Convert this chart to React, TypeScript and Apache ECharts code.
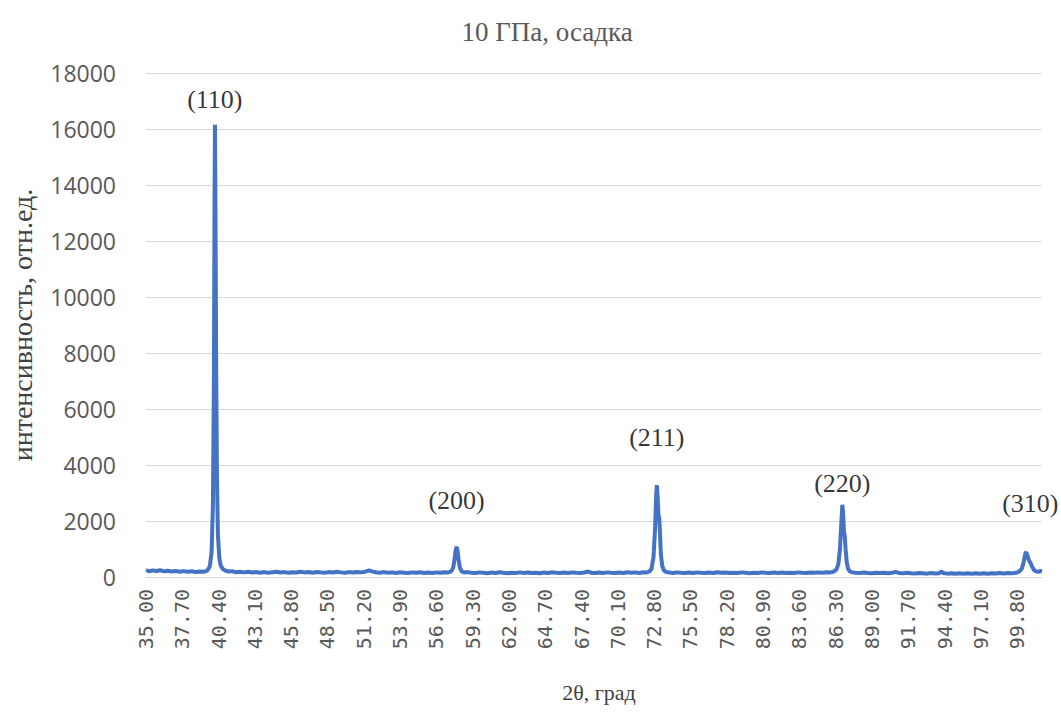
import React, { useEffect, useRef } from "react";
import * as echarts from "echarts";

const title = "10 ГПа, осадка";
const xName = "2θ, град";
const yName = "интенсивность, отн.ед.";

// 2θ angles (deg) and intensities
const angle: number[] = [
  35.0, 35.25, 35.5, 35.8, 36.05, 36.35, 36.6, 36.9, 37.2, 37.5, 37.8, 38.1, 38.4, 38.7, 39.0, 39.3, 39.55, 39.75,
  39.88, 39.98, 40.05, 40.1, 40.13, 40.17, 40.22, 40.28, 40.35, 40.45, 40.55, 40.7, 40.9, 41.15, 41.4, 41.7, 42.0,
  42.3, 42.6, 42.9, 43.2, 43.5, 43.8, 44.1, 44.4, 44.7, 45.0, 45.3, 45.6, 45.9, 46.2, 46.5, 46.8, 47.1, 47.4, 47.7,
  48.0, 48.3, 48.6, 48.9, 49.2, 49.5, 49.8, 50.1, 50.4, 50.7, 51.0, 51.3, 51.6, 51.8, 52.1, 52.4, 52.7, 53.0, 53.3,
  53.6, 53.9, 54.2, 54.5, 54.8, 55.1, 55.4, 55.7, 56.0, 56.3, 56.6, 56.9, 57.2, 57.5, 57.7, 57.85, 57.95, 58.03,
  58.1, 58.17, 58.25, 58.35, 58.48, 58.65, 58.9, 59.2, 59.5, 59.8, 60.1, 60.4, 60.7, 61.0, 61.3, 61.6, 61.9, 62.2,
  62.5, 62.8, 63.1, 63.4, 63.7, 64.0, 64.3, 64.6, 64.9, 65.2, 65.5, 65.8, 66.1, 66.4, 66.7, 67.0, 67.3, 67.6, 67.9,
  68.1, 68.4, 68.7, 69.0, 69.3, 69.6, 69.9, 70.2, 70.5, 70.8, 71.1, 71.4, 71.7, 72.0, 72.25, 72.45, 72.6, 72.75,
  72.87, 72.95, 73.0, 73.06, 73.12, 73.18, 73.24, 73.3, 73.4, 73.52, 73.7, 73.95, 74.2, 74.5, 74.8, 75.1, 75.4,
  75.7, 76.0, 76.3, 76.6, 76.9, 77.2, 77.5, 77.8, 78.1, 78.4, 78.7, 79.0, 79.3, 79.6, 79.9, 80.2, 80.5, 80.8, 81.1,
  81.4, 81.7, 82.0, 82.3, 82.6, 82.9, 83.2, 83.5, 83.8, 84.1, 84.4, 84.7, 85.0, 85.3, 85.6, 85.9, 86.15, 86.35,
  86.5, 86.62, 86.72, 86.8, 86.86, 86.92, 86.98, 87.04, 87.12, 87.22, 87.35, 87.55, 87.8, 88.1, 88.4, 88.7, 89.0,
  89.3, 89.6, 89.9, 90.2, 90.5, 90.75, 91.0, 91.3, 91.6, 91.9, 92.2, 92.5, 92.8, 93.1, 93.4, 93.7, 94.0, 94.15,
  94.3, 94.6, 94.9, 95.2, 95.5, 95.8, 96.1, 96.4, 96.7, 97.0, 97.3, 97.6, 97.9, 98.2, 98.5, 98.8, 99.1, 99.4, 99.7,
  99.95, 100.15, 100.3, 100.42, 100.48, 100.56, 100.66, 100.78, 100.9, 101.05, 101.2, 101.35, 101.5, 101.65,
];

const intensity: number[] = [
  250, 205, 235, 215, 240, 200, 225, 195, 215, 185, 210, 190, 205, 175, 195, 185, 230, 380,
  900, 2600, 7000, 13500, 16150, 13000, 7500, 3500, 1500, 700, 420, 290, 230, 195, 210, 170, 190,
  165, 185, 160, 180, 155, 175, 150, 170, 185, 160, 175, 150, 170, 160, 185, 165, 175, 155, 180,
  165, 150, 175, 160, 185, 165, 150, 175, 160, 180, 165, 190, 240, 200, 170, 155, 175, 150, 165,
  145, 170, 155, 140, 165, 150, 170, 145, 160, 140, 165, 150, 170, 160, 200, 330, 620, 950,
  1080, 950, 620, 330, 200, 160, 175, 150, 140, 165, 150, 135, 160, 145, 170, 150, 135, 155,
  140, 165, 145, 160, 140, 155, 135, 160, 145, 170, 150, 140, 160, 145, 165, 150, 140, 160, 195,
  155, 140, 160, 145, 165, 150, 140, 160, 145, 170, 150, 165, 145, 170, 160, 200, 280, 700,
  1750, 2900, 3280, 2850, 2200, 2100, 1500, 800, 400, 240, 175, 160, 145, 165, 150, 140, 160,
  145, 165, 150, 140, 160, 145, 170, 150, 160, 140, 155, 145, 165, 150, 135, 155, 145, 165, 150,
  140, 160, 145, 160, 140, 155, 145, 165, 150, 140, 160, 150, 165, 155, 170, 165, 190, 260,
  450, 1000, 1900, 2580, 2250, 1600, 1450, 1000, 550, 300, 200, 165, 150, 140, 160, 145, 135,
  150, 140, 155, 135, 150, 185, 145, 130, 150, 135, 125, 145, 130, 120, 140, 125, 135, 200,
  140, 120, 135, 115, 130, 120, 135, 115, 130, 120, 135, 115, 130, 125, 140, 125, 140, 130, 150,
  190, 300, 560, 860, 880, 780, 620, 520, 380, 250, 200, 185, 215, 205,
];

// Miller indices annotations: peak angle and label height (data units)
const peakNames: string[] = ["(110)", "(200)", "(211)", "(220)", "(310)"];
const peakAngle: number[] = [40.12, 58.1, 73.0, 86.8, 100.78];
const peakLabelLevel: number[] = [17050, 2750, 5000, 3350, 2640];

const xMin = 35.0;
const xMax = 101.65;
const xStep = 2.7;
const yMin = 0;
const yMax = 18000;
const yStep = 2000;

export default function App() {
  const ref = useRef<HTMLDivElement>(null);

  useEffect(() => {
    document.body.style.margin = "0";
    if (!ref.current) return;
    const chart = echarts.init(ref.current, undefined, { renderer: "svg" });
    const lineData = angle.map((a, i) => [a, intensity[i]]);
    const labelData = peakNames.map((n, i) => [peakAngle[i], peakLabelLevel[i], n]);

    chart.setOption({
      animation: false,
      backgroundColor: "#ffffff",
      title: {
        text: title,
        left: 542,
        top: 13,
        textAlign: "center",
        textStyle: {
          fontFamily: "Liberation Serif",
          fontSize: 27,
          fontWeight: "normal",
          color: "#595959",
        },
      },
      grid: { left: 144, right: 19, top: 73, bottom: 143, containLabel: false },
      xAxis: {
        type: "value",
        min: xMin,
        max: xMax,
        interval: xStep,
        name: xName,
        nameLocation: "middle",
        nameGap: 104,
        nameTextStyle: { fontFamily: "Liberation Serif", fontSize: 22, color: "#404040", padding: [0, 0, 0, 10] },
        axisLine: { show: true, lineStyle: { color: "#d9d9d9", width: 1 } },
        axisTick: { show: false },
        splitLine: { show: false },
        axisLabel: {
          rotate: 90,
          margin: 12,
          fontFamily: "DejaVu Sans Mono",
          fontSize: 20,
          color: "#595959",
          showMaxLabel: false,
          formatter: (v: number) => (v > 100.5 ? "" : v.toFixed(2)),
        },
      },
      yAxis: {
        type: "value",
        min: yMin,
        max: yMax,
        interval: yStep,
        name: yName,
        nameLocation: "middle",
        nameGap: 110,
        nameTextStyle: { fontFamily: "Liberation Serif", fontSize: 28, color: "#404040" },
        axisLine: { show: false },
        axisTick: { show: false },
        splitLine: { show: true, lineStyle: { color: "#d9d9d9", width: 1 } },
        axisLabel: {
          margin: 30,
          fontFamily: "Open Sans",
          fontSize: 23,
          color: "#595959",
          formatter: (v: number) => String(v),
        },
      },
      series: [
        {
          type: "line",
          data: lineData,
          showSymbol: false,
          symbol: "none",
          smooth: false,
          lineStyle: { color: "#4472C4", width: 4 },
          z: 3,
        },
        {
          type: "scatter",
          data: labelData,
          symbolSize: 0,
          silent: true,
          label: {
            show: true,
            position: "inside",
            formatter: (p: any) => p.value[2],
            fontFamily: "Liberation Serif",
            fontSize: 26,
            color: "#000000",
          },
          z: 4,
        },
      ],
    });
    return () => chart.dispose();
  }, []);

  return <div ref={ref} style={{ width: 1061, height: 720 }} />;
}
